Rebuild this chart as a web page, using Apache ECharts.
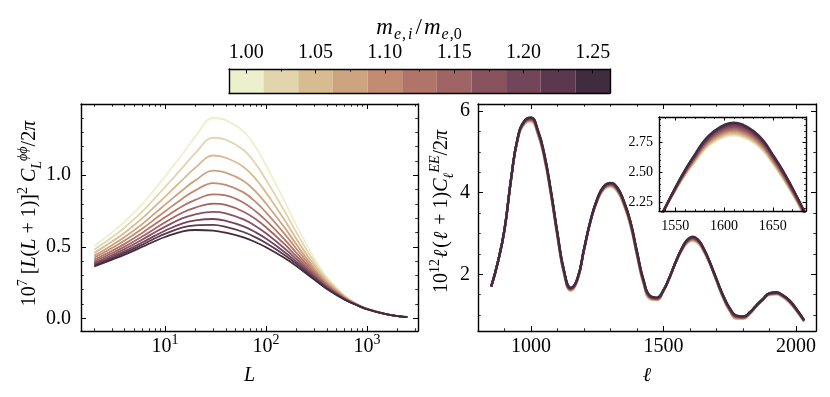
<!DOCTYPE html>
<html>
<head>
<meta charset="utf-8">
<script src="https://cdn.jsdelivr.net/npm/echarts@6/dist/echarts.min.js"></script>
<style>
html, body { margin: 0; padding: 0; background: #fff; }
#chart { width: 830px; height: 397px; }
</style>
</head>
<body>
<div id="chart"></div>
<script>
// electron mass ratio m_e,i / m_e,0 of each curve, and its colour (light -> dark)
var massRatios = ['1.000', '1.025', '1.050', '1.075', '1.100', '1.125', '1.150', '1.175', '1.200', '1.225', '1.250'];
var curveColors = ['#edf0cd', '#e2d5ae', '#d7bc92', '#cda480', '#c28b72', '#b17468',
                   '#9f6464', '#88525f', '#734559', '#5c384e', '#412b3f'];

// lensing potential spectrum, 10^7 [L(L+1)]^2 C_L^phiphi / 2pi
var lensL = [2, 3, 4, 6, 8, 10, 15, 20, 30, 40, 60, 80, 100, 150, 200, 300, 400, 600, 800, 1000, 1500, 2000, 2500];
var lensMass100  = [0.505,0.600,0.675,0.800,0.905,0.990,1.150,1.270,1.400,1.385,1.305,1.190,1.070,0.830,0.650,0.420,0.290,0.160,0.100,0.068,0.032,0.016,0.009];
var lensMass1025 = [0.480,0.567,0.635,0.747,0.841,0.916,1.055,1.155,1.262,1.248,1.176,1.074,0.969,0.759,0.600,0.394,0.275,0.155,0.098,0.067,0.032,0.016,0.009];
var lensMass1050 = [0.457,0.537,0.598,0.700,0.783,0.849,0.969,1.052,1.138,1.122,1.058,0.970,0.879,0.695,0.555,0.370,0.262,0.150,0.097,0.066,0.031,0.016,0.009];
var lensMass1075 = [0.438,0.511,0.568,0.660,0.735,0.793,0.897,0.964,1.032,1.018,0.960,0.882,0.802,0.641,0.517,0.350,0.250,0.146,0.095,0.066,0.031,0.016,0.009];
var lensMass1100 = [0.423,0.491,0.543,0.627,0.695,0.747,0.838,0.894,0.945,0.932,0.880,0.810,0.740,0.597,0.486,0.334,0.241,0.143,0.094,0.065,0.031,0.015,0.008];
var lensMass1125 = [0.409,0.472,0.520,0.598,0.659,0.706,0.785,0.828,0.866,0.859,0.808,0.745,0.684,0.557,0.458,0.319,0.233,0.140,0.093,0.065,0.031,0.015,0.008];
var lensMass1150 = [0.397,0.456,0.501,0.573,0.628,0.670,0.739,0.774,0.801,0.792,0.745,0.690,0.636,0.523,0.434,0.306,0.226,0.137,0.092,0.064,0.030,0.015,0.008];
var lensMass1175 = [0.386,0.442,0.484,0.551,0.602,0.639,0.700,0.727,0.744,0.734,0.691,0.642,0.594,0.493,0.413,0.295,0.219,0.135,0.092,0.064,0.030,0.015,0.008];
var lensMass1200 = [0.377,0.430,0.469,0.531,0.578,0.612,0.664,0.684,0.694,0.681,0.643,0.599,0.557,0.467,0.395,0.286,0.214,0.133,0.091,0.064,0.030,0.015,0.008];
var lensMass1225 = [0.369,0.420,0.457,0.515,0.559,0.590,0.636,0.650,0.653,0.639,0.603,0.564,0.526,0.446,0.380,0.278,0.209,0.132,0.091,0.063,0.030,0.015,0.008];
var lensMass1250 = [0.362,0.410,0.445,0.500,0.540,0.568,0.608,0.617,0.613,0.598,0.565,0.530,0.497,0.425,0.365,0.270,0.205,0.130,0.090,0.063,0.030,0.015,0.008];

// E-mode spectrum, 10^12 l(l+1) C_l^EE / 2pi
var eeEll = [850,875,900,925,950,975,1000,1025,1050,1075,1100,1125,1150,1175,1200,1225,1250,1275,1300,1325,1350,1375,1400,1425,1450,1475,1500,1520,1540,
             1550,1560,1570,1580,1590,1600,1610,1620,1630,1640,1650,1660,1670,1680,1700,1725,1750,1775,1800,1825,1850,1875,1900,1925,1950,1975,2000,2030];
var eeMass100  = [1.70,2.30,3.090,4.330,5.300,5.670,5.730,5.430,4.830,3.930,2.890,1.980,1.590,1.840,2.590,3.300,3.790,4.070,4.140,4.020,3.680,3.180,2.430,1.740,1.380,1.360,1.590,1.870,2.200,
                  2.345,2.475,2.585,2.690,2.755,2.795,2.810,2.790,2.750,2.680,2.570,2.450,2.315,2.165,1.820,1.400,1.080,0.900,0.900,1.020,1.210,1.360,1.490,1.500,1.430,1.300,1.110,0.840];
var eeMass1025 = [1.70,2.30,3.091,4.332,5.305,5.679,5.741,5.442,4.842,3.942,2.901,1.990,1.598,1.846,2.593,3.303,3.796,4.079,4.150,4.031,3.692,3.192,2.442,1.751,1.389,1.367,1.593,1.872,2.201,
                  2.348,2.480,2.592,2.698,2.765,2.806,2.821,2.801,2.760,2.689,2.578,2.457,2.321,2.170,1.826,1.408,1.089,0.909,0.907,1.025,1.213,1.364,1.495,1.506,1.436,1.306,1.115,0.844];
var eeMass1050 = [1.70,2.30,3.092,4.334,5.310,5.688,5.752,5.454,4.854,3.954,2.912,2.000,1.606,1.852,2.596,3.306,3.802,4.088,4.160,4.042,3.704,3.204,2.454,1.762,1.398,1.374,1.596,1.874,2.202,
                  2.350,2.484,2.598,2.706,2.774,2.816,2.832,2.812,2.770,2.698,2.586,2.464,2.326,2.174,1.832,1.416,1.098,0.918,0.914,1.030,1.216,1.368,1.500,1.512,1.442,1.312,1.120,0.848];
var eeMass1075 = [1.70,2.30,3.093,4.336,5.315,5.697,5.763,5.466,4.866,3.966,2.923,2.010,1.614,1.858,2.599,3.309,3.808,4.097,4.170,4.053,3.716,3.216,2.466,1.773,1.407,1.381,1.599,1.876,2.203,
                  2.353,2.489,2.605,2.714,2.784,2.827,2.843,2.823,2.780,2.707,2.594,2.471,2.332,2.179,1.838,1.424,1.107,0.927,0.921,1.035,1.219,1.372,1.505,1.518,1.448,1.318,1.125,0.852];
var eeMass1100 = [1.70,2.30,3.094,4.338,5.320,5.706,5.774,5.478,4.878,3.978,2.934,2.020,1.622,1.864,2.602,3.312,3.814,4.106,4.180,4.064,3.728,3.228,2.478,1.784,1.416,1.388,1.602,1.878,2.204,
                  2.355,2.493,2.611,2.722,2.793,2.837,2.854,2.834,2.790,2.716,2.602,2.478,2.337,2.183,1.844,1.432,1.116,0.936,0.928,1.040,1.222,1.376,1.510,1.524,1.454,1.324,1.130,0.856];
var eeMass1125 = [1.70,2.30,3.095,4.340,5.325,5.715,5.785,5.490,4.890,3.990,2.945,2.030,1.630,1.870,2.605,3.315,3.820,4.115,4.190,4.075,3.740,3.240,2.490,1.795,1.425,1.395,1.605,1.880,2.205,
                  2.358,2.498,2.618,2.730,2.803,2.848,2.865,2.845,2.800,2.725,2.610,2.485,2.343,2.188,1.850,1.440,1.125,0.945,0.935,1.045,1.225,1.380,1.515,1.530,1.460,1.330,1.135,0.860];
var eeMass1150 = [1.70,2.30,3.096,4.342,5.330,5.724,5.796,5.502,4.902,4.002,2.956,2.040,1.638,1.876,2.608,3.318,3.826,4.124,4.200,4.086,3.752,3.252,2.502,1.806,1.434,1.402,1.608,1.882,2.206,
                  2.360,2.502,2.624,2.738,2.812,2.858,2.876,2.856,2.810,2.734,2.618,2.492,2.348,2.192,1.856,1.448,1.134,0.954,0.942,1.050,1.228,1.384,1.520,1.536,1.466,1.336,1.140,0.864];
var eeMass1175 = [1.70,2.30,3.097,4.344,5.335,5.733,5.807,5.514,4.914,4.014,2.967,2.050,1.646,1.882,2.611,3.321,3.832,4.133,4.210,4.097,3.764,3.264,2.514,1.817,1.443,1.409,1.611,1.884,2.207,
                  2.363,2.507,2.631,2.746,2.822,2.869,2.887,2.867,2.820,2.743,2.626,2.499,2.354,2.197,1.862,1.456,1.143,0.963,0.949,1.055,1.231,1.388,1.525,1.542,1.472,1.342,1.145,0.868];
var eeMass1200 = [1.70,2.30,3.098,4.346,5.340,5.742,5.818,5.526,4.926,4.026,2.978,2.060,1.654,1.888,2.614,3.324,3.838,4.142,4.220,4.108,3.776,3.276,2.526,1.828,1.452,1.416,1.614,1.886,2.208,
                  2.365,2.511,2.637,2.754,2.831,2.879,2.898,2.878,2.830,2.752,2.634,2.506,2.359,2.201,1.868,1.464,1.152,0.972,0.956,1.060,1.234,1.392,1.530,1.548,1.478,1.348,1.150,0.872];
var eeMass1225 = [1.70,2.30,3.099,4.348,5.345,5.751,5.829,5.538,4.938,4.038,2.989,2.070,1.662,1.894,2.617,3.327,3.844,4.151,4.230,4.119,3.788,3.288,2.538,1.839,1.461,1.423,1.617,1.888,2.209,
                  2.368,2.516,2.644,2.762,2.841,2.890,2.909,2.889,2.840,2.761,2.642,2.513,2.365,2.206,1.874,1.472,1.161,0.981,0.963,1.065,1.237,1.396,1.535,1.554,1.484,1.354,1.155,0.876];
var eeMass1250 = [1.70,2.30,3.10,4.35,5.35,5.76,5.84,5.55,4.95,4.05,3.00,2.08,1.67,1.90,2.62,3.33,3.85,4.16,4.24,4.13,3.80,3.30,2.55,1.85,1.47,1.43,1.62,1.89,2.21,
                  2.37,2.52,2.65,2.77,2.85,2.90,2.92,2.90,2.85,2.77,2.65,2.52,2.37,2.21,1.88,1.48,1.17,0.99,0.97,1.07,1.24,1.40,1.54,1.56,1.49,1.36,1.16,0.88];

var lensCurves = [lensMass100, lensMass1025, lensMass1050, lensMass1075, lensMass1100, lensMass1125,
                  lensMass1150, lensMass1175, lensMass1200, lensMass1225, lensMass1250];
var eeCurves = [eeMass100, eeMass1025, eeMass1050, eeMass1075, eeMass1100, eeMass1125,
                eeMass1150, eeMass1175, eeMass1200, eeMass1225, eeMass1250];

// tick values
var lensXMajor = [10, 100, 1000];
var lensXMinor = [2,3,4,5,6,7,8,9,20,30,40,50,60,70,80,90,200,300,400,500,600,700,800,900,2000,3000];
var lensYMajor = [0, 0.5, 1.0];
var lensYMinor = [0.1,0.2,0.3,0.4,0.6,0.7,0.8,0.9,1.1,1.2,1.3,1.4];
var eeXMajor = [1000, 1500, 2000];
var eeXMinor = [900,1100,1200,1300,1400,1600,1700,1800,1900];
var eeYMajor = [2, 4, 6];
var eeYMinor = [1,1.5,2.5,3,3.5,4.5,5,5.5];
var insetXMajor = [1550, 1600, 1650];
var insetXMinor = [1540,1560,1570,1580,1590,1610,1620,1630,1640,1660,1670,1680];
var insetYMajor = [2.25, 2.50, 2.75];
var insetYMinor = [2.2,2.3,2.35,2.4,2.45,2.55,2.6,2.65,2.7,2.8,2.85,2.9,2.95];

var SERIF = '"Liberation Serif", "DejaVu Serif", serif';
var rich = {
    n:  { fontFamily: SERIF, fontSize: 20, lineHeight: 28, color: '#000' },
    i:  { fontFamily: SERIF, fontSize: 20, lineHeight: 28, color: '#000', fontStyle: 'italic' },
    l:  { fontFamily: SERIF, fontSize: 20, lineHeight: 28, color: '#000', fontStyle: 'italic', padding: [0, 2, 0, 1] },
    s:  { fontFamily: SERIF, fontSize: 14, lineHeight: 14, color: '#000', verticalAlign: 'top' },
    si: { fontFamily: SERIF, fontSize: 14, lineHeight: 14, color: '#000', verticalAlign: 'top', fontStyle: 'italic' },
    b:  { fontFamily: SERIF, fontSize: 14, lineHeight: 14, color: '#000', verticalAlign: 'bottom' },
    bi: { fontFamily: SERIF, fontSize: 14, lineHeight: 14, color: '#000', verticalAlign: 'bottom', fontStyle: 'italic' },
    t:  { fontFamily: SERIF, fontSize: 14, lineHeight: 18, color: '#000' },
    // colour bar title
    cm: { fontFamily: SERIF, fontSize: 23, lineHeight: 30, color: '#000', fontStyle: 'italic' },
    cn: { fontFamily: SERIF, fontSize: 23, lineHeight: 30, color: '#000', padding: [0, 2, 0, 2] },
    cb: { fontFamily: SERIF, fontSize: 16, lineHeight: 16, color: '#000', verticalAlign: 'bottom', padding: [0, 1, 0, 0] },
    cbi: { fontFamily: SERIF, fontSize: 16, lineHeight: 16, color: '#000', verticalAlign: 'bottom', fontStyle: 'italic', padding: [0, 1, 0, 1] }
};

var xAxes = [], yAxes = [];

// one major + one minor axis on a side of a grid; returns index of the major one
function addAxis(list, grid, cfg, pos, withLabel) {
    var base = {
        gridIndex: grid, type: cfg.type, min: cfg.min, max: cfg.max, position: pos, z: 10,
        splitLine: { show: false }, nameMoveOverlap: false
    };
    if (cfg.type === 'log') base.logBase = 10;
    var major = Object.assign({}, base, {
        axisLine: { show: true, onZero: false, lineStyle: { color: '#000', width: 1.4 } },
        axisTick: { show: true, inside: true, length: cfg.majorLen, customValues: cfg.major,
                    lineStyle: { color: '#000', width: 1 } },
        axisLabel: withLabel ? { show: true, customValues: cfg.major, formatter: cfg.fmt,
                                 margin: cfg.margin, rich: rich } : { show: false }
    });
    if (withLabel && cfg.name) {
        major.name = cfg.name;
        major.nameLocation = 'middle';
        major.nameGap = cfg.nameGap;
        major.nameRotate = cfg.nameRotate || 0;
        major.nameTextStyle = { rich: rich, padding: cfg.namePad || 0 };
    }
    var minor = Object.assign({}, base, {
        axisLine: { show: false, onZero: false },
        axisTick: { show: true, inside: true, length: cfg.minorLen, customValues: cfg.minor,
                    lineStyle: { color: '#000', width: 0.8 } },
        axisLabel: { show: false }
    });
    list.push(major);
    var idx = list.length - 1;
    list.push(minor);
    return idx;
}

function addPanel(grid, xc, yc) {
    var xi = addAxis(xAxes, grid, xc, 'bottom', true);
    addAxis(xAxes, grid, xc, 'top', false);
    var yi = addAxis(yAxes, grid, yc, 'left', true);
    addAxis(yAxes, grid, yc, 'right', false);
    return [xi, yi];
}

var lensAx = addPanel(0, {
    type: 'log', min: 1.479, max: 3192, major: lensXMajor, minor: lensXMinor, majorLen: 5, minorLen: 2.8,
    fmt: function (v) { return '{n|10}{s|' + Math.round(Math.log10(v)) + '}'; }, margin: 2,
    name: '{i|L}', nameGap: 31
}, {
    type: 'value', min: -0.089, max: 1.498, major: lensYMajor, minor: lensYMinor, majorLen: 5, minorLen: 2.8,
    fmt: function (v) { return '{n|' + v.toFixed(1) + '}'; }, margin: 10,
    name: '{n|10}{s|7}{n| [}{i|L}{n|(}{i|L}{n| + 1)]}{s|2}{n| }{i|C}{bi|L}{si|ϕϕ}{n|/2}{i|π}',
    nameGap: 37, nameRotate: 90, namePad: [0, 0, 0, 8]
});

var eeAx = addPanel(1, {
    type: 'value', min: 800, max: 2075, major: eeXMajor, minor: eeXMinor, majorLen: 5, minorLen: 2.8,
    fmt: function (v) { return '{n|' + v + '}'; }, margin: 2,
    name: '{i|ℓ}', nameGap: 31
}, {
    type: 'value', min: 0.611, max: 6.17, major: eeYMajor, minor: eeYMinor, majorLen: 5, minorLen: 2.8,
    fmt: function (v) { return '{n|' + v + '}'; }, margin: 8,
    name: '{n|10}{s|12}{l|ℓ}{n|(}{l|ℓ}{n| + 1)}{i|C}{bi|ℓ}{si|EE}{n|/2}{i|π}',
    nameGap: 22, nameRotate: 90, namePad: [0, 0, 0, 12]
});

var insetAx = addPanel(2, {
    type: 'value', min: 1533.3, max: 1684, major: insetXMajor, minor: insetXMinor, majorLen: 3.5, minorLen: 2,
    fmt: function (v) { return '{t|' + v + '}'; }, margin: 6
}, {
    type: 'value', min: 2.174, max: 2.967, major: insetYMajor, minor: insetYMinor, majorLen: 3.5, minorLen: 2,
    fmt: function (v) { return '{t|' + v.toFixed(2) + '}'; }, margin: 6
});

// colour bar
var cbX = xAxes.length;
xAxes.push({
    gridIndex: 3, type: 'category', data: massRatios, position: 'top', z: 10, nameMoveOverlap: false,
    axisLine: { show: true, onZero: false, lineStyle: { color: '#000', width: 1.4 } },
    axisTick: { show: true, inside: true, alignWithLabel: true, interval: 1, length: 4.5,
                lineStyle: { color: '#000', width: 1 } },
    axisLabel: { show: true, interval: 1, margin: 2.5, rich: rich,
                 formatter: function (v) { return '{n|' + Number(v).toFixed(2) + '}'; } },
    name: '{cm|m}{cbi|e}{cb|,}{cbi|i}{cn|/}{cm|m}{cbi|e}{cb|,0}', nameLocation: 'middle', nameGap: 26,
    nameTextStyle: { rich: rich }
});
xAxes.push({
    gridIndex: 3, type: 'category', data: massRatios, position: 'top', z: 10,
    axisLine: { show: false, onZero: false },
    axisTick: { show: true, inside: true, alignWithLabel: true, interval: 0, length: 2.5,
                lineStyle: { color: '#000', width: 1 } },
    axisLabel: { show: false }
});
xAxes.push({
    gridIndex: 3, type: 'category', data: massRatios, position: 'bottom', z: 10,
    axisLine: { show: true, onZero: false, lineStyle: { color: '#000', width: 1.4 } },
    axisTick: { show: false }, axisLabel: { show: false }
});
var cbY = yAxes.length;
['left', 'right'].forEach(function (p) {
    yAxes.push({
        gridIndex: 3, type: 'value', min: 0, max: 1, position: p, z: 10,
        axisLine: { show: true, onZero: false, lineStyle: { color: '#000', width: 1.4 } },
        axisTick: { show: false }, axisLabel: { show: false }, splitLine: { show: false }
    });
});

var series = [];
lensCurves.forEach(function (arr, i) {
    series.push({
        type: 'line', xAxisIndex: lensAx[0], yAxisIndex: lensAx[1], showSymbol: false, smooth: 0.4,
        data: lensL.map(function (L, j) { return [L, arr[j]]; }),
        lineStyle: { color: curveColors[i], width: 1.8 }
    });
});
eeCurves.forEach(function (arr, i) {
    var pts = eeEll.map(function (l, j) { return [l, arr[j]]; });
    series.push({
        type: 'line', xAxisIndex: eeAx[0], yAxisIndex: eeAx[1], showSymbol: false, smooth: 0.5,
        data: pts, lineStyle: { color: curveColors[i], width: 2.3 }
    });
    series.push({
        type: 'line', xAxisIndex: insetAx[0], yAxisIndex: insetAx[1], showSymbol: false, smooth: 0.5,
        clip: true, data: pts, lineStyle: { color: curveColors[i], width: 2.3 }
    });
});
series.push({
    type: 'bar', xAxisIndex: cbX, yAxisIndex: cbY, barCategoryGap: '0%',
    data: massRatios.map(function (m, i) { return { value: 1, itemStyle: { color: curveColors[i] } }; })
});

var gridBase = { containLabel: false, outerBoundsMode: 'none' };
var option = {
    animation: false,
    backgroundColor: '#fff',
    textStyle: { fontFamily: SERIF },
    grid: [
        Object.assign({ left: 81, top: 104, width: 337, height: 227 }, gridBase),
        Object.assign({ left: 478, top: 104, width: 338, height: 227 }, gridBase),
        Object.assign({ left: 659, top: 117, width: 147, height: 94, show: true,
                        backgroundColor: '#fff', borderWidth: 0 }, gridBase),
        Object.assign({ left: 229, top: 69, width: 381, height: 24 }, gridBase)
    ],
    xAxis: xAxes,
    yAxis: yAxes,
    series: series
};

var chart = echarts.init(document.getElementById('chart'));
chart.setOption(option);
</script>
</body>
</html>
